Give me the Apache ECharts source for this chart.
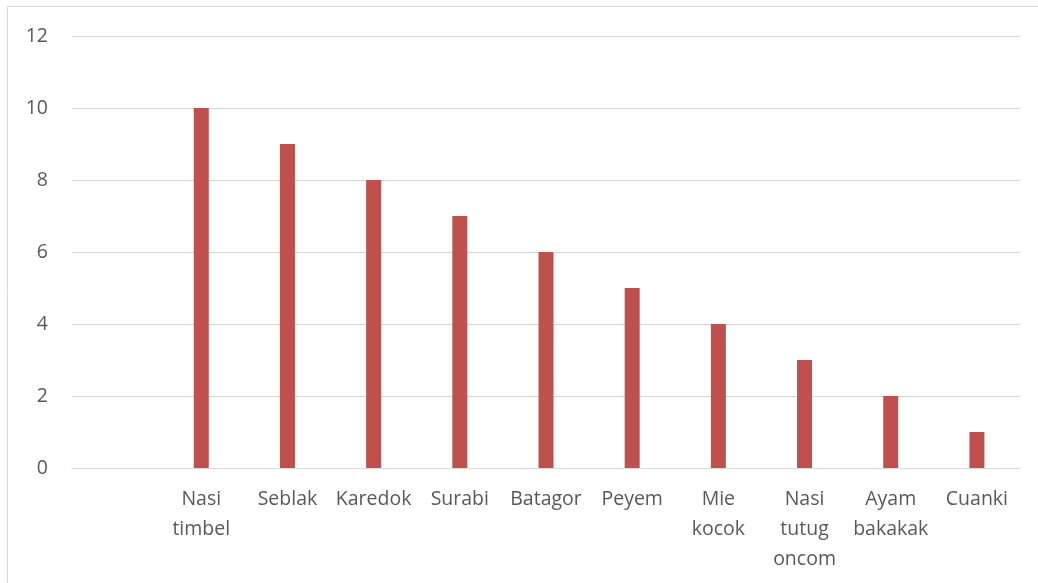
<!DOCTYPE html>
<html><head><meta charset="utf-8">
<script src="https://cdn.jsdelivr.net/npm/echarts@6/dist/echarts.min.js"></script>
<style>html,body{margin:0;padding:0;background:#fff}#c{width:1038px;height:583px}</style>
</head><body><div id="c"></div>
<script>
const categories = ['', 'Nasi\ntimbel', 'Seblak', 'Karedok', 'Surabi', 'Batagor', 'Peyem', 'Mie\nkocok', 'Nasi\ntutug\noncom', 'Ayam\nbakakak', 'Cuanki'];
const values = [null, 10, 9, 8, 7, 6, 5, 4, 3, 2, 1];
const yTicks = [0, 2, 4, 6, 8, 10, 12];
const chart = echarts.init(document.getElementById('c'));
const font = '"Open Sans", "Liberation Sans", sans-serif';
chart.setOption({
  animation: false,
  graphic: [{type: 'rect', shape: {x: 7.5, y: 6.5, width: 1100, height: 700}, style: {fill: 'none', stroke: '#d9d9d9', lineWidth: 1}}],
  grid: {left: 72, right: 18, top: 36, bottom: 115, containLabel: false},
  xAxis: {
    type: 'category', data: categories,
    axisLine: {lineStyle: {color: '#d9d9d9', width: 1}},
    axisTick: {show: false},
    axisLabel: {color: '#595959', fontFamily: font, fontSize: 19.5, lineHeight: 30, margin: 16, interval: 0}
  },
  yAxis: {
    type: 'value', min: 0, max: 12, interval: 2,
    axisLine: {show: false}, axisTick: {show: false},
    splitLine: {lineStyle: {color: '#d4d4d4', width: 1}},
    axisLabel: {color: '#595959', fontFamily: font, fontSize: 19.5, margin: 24,
      formatter: v => yTicks.includes(v) ? String(v) : ''}
  },
  series: [{type: 'bar', data: values, barWidth: 15, itemStyle: {color: '#c0504d'}}]
});
</script></body></html>
